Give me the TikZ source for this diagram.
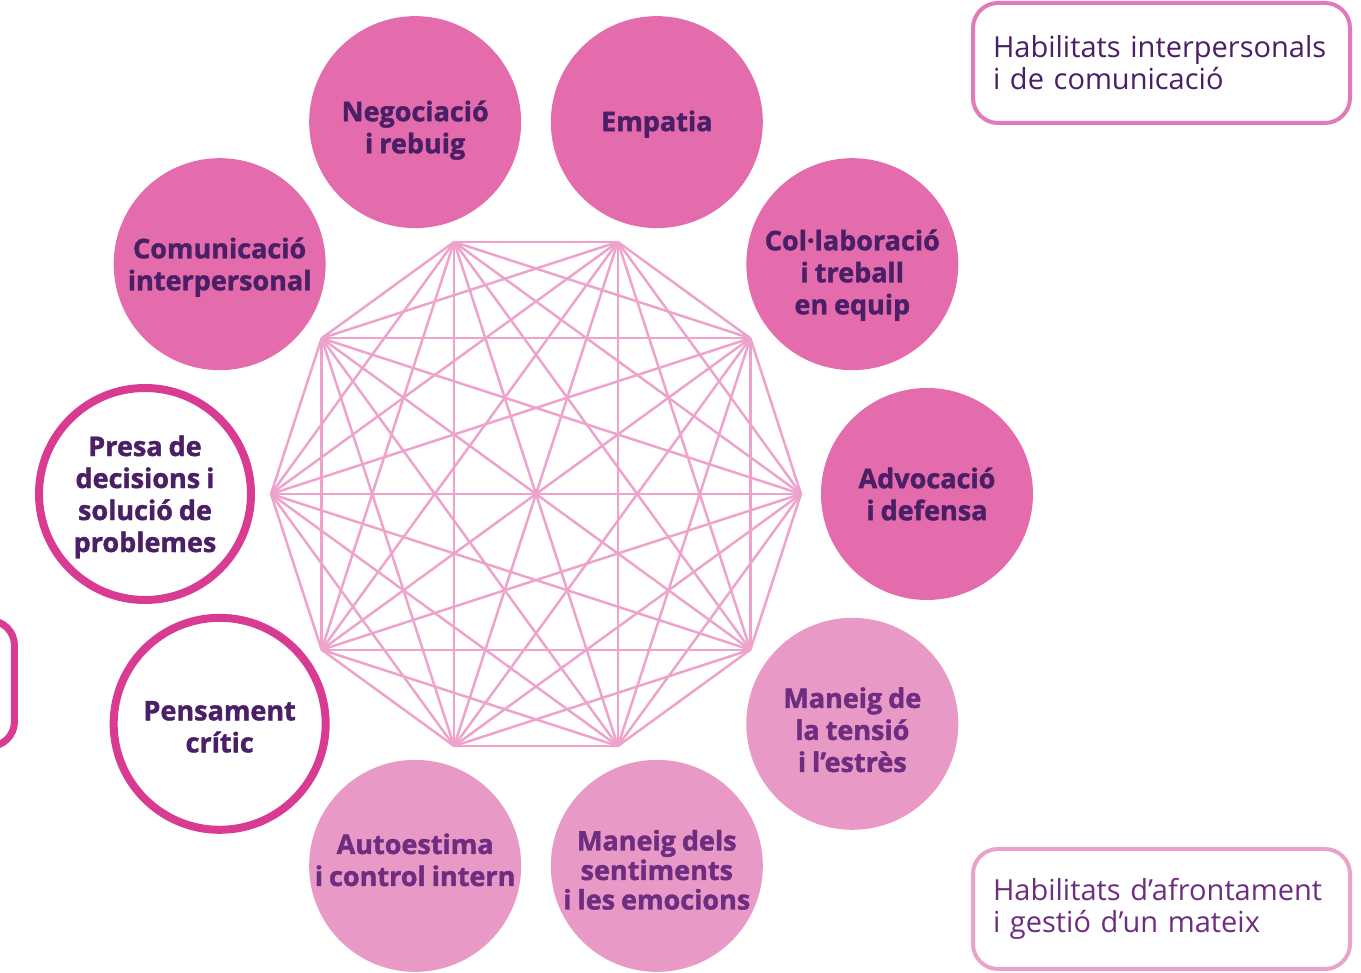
\documentclass[tikz,border=0pt]{standalone}
\usepackage{fontspec}
\setmainfont{Open Sans}[BoldFeatures={FakeBold=1.5, WordSpace=0.85}]

\definecolor{interpink}{HTML}{E46BAC}
\definecolor{selfpink}{HTML}{E899C5}
\definecolor{cognpink}{HTML}{D93A92}
\definecolor{edgepink}{HTML}{EEA3CD}
\definecolor{darkplum}{HTML}{4A1F66}
\definecolor{plum}{HTML}{6E2D80}
\definecolor{interframe}{HTML}{E07AB8}
\definecolor{selfframe}{HTML}{E9A3CA}

\tikzset{
	skill/.style={circle, minimum size=212pt, inner sep=0pt},
	inter/.style={skill, fill=interpink},
	self/.style={skill, fill=selfpink},
	cogn/.style={skill, draw=cognpink, line width=8pt, fill=white},
	skilltext/.style={align=center, inner sep=0pt, text=darkplum,
		font=\fontsize{27}{32}\selectfont\bfseries},
	edge/.style={edgepink, line width=2.5pt},
	legend/.style={rounded corners=25pt, line width=4pt, fill=white,
		minimum width=377pt, minimum height=120pt, text width=337pt,
		inner xsep=20pt, align=left, font=\fontsize{29}{32}\selectfont}
}

\begin{document}
\begin{tikzpicture}[x=1pt, y=1pt]
		\useasboundingbox (-536, -479) rectangle (825, 494);

		% decagon corners and all their chords
		\foreach \i in {0,...,9}
			\coordinate (v\i) at (\i*36:265);
		\foreach \i in {0,...,8} {
			\pgfmathtruncatemacro\k{\i+1}
			\foreach \j in {\k,...,9}
				\draw[edge] (v\i) -- (v\j);
		}

		% skills, text as centred labels (nudged to sit as in the layout)
		\node[inter, label={[skilltext, yshift=0]center:{Advocació\\i defensa}}] (advoc) at (0:391) {};
		\node[inter, label={[skilltext, yshift=-11]center:{Col·laboració\\i treball\\en equip}}] (collab) at (36:391) {};
		\node[inter, label={[skilltext, yshift=-2]center:{Empatia}}] (empat) at (72:391) {};
		\node[inter, label={[skilltext, yshift=-8]center:{Negociació\\i rebuig}}] (negoc) at (108:391) {};
		\node[inter, label={[skilltext, yshift=-3]center:{Comunicació\\interpersonal}}] (comun) at (144:391) {};
		\node[cogn, label={[skilltext, yshift=-3]center:{Presa de\\decisions i\\solució de\\problemes}}] (presa) at (180:391) {};
		\node[cogn, label={[skilltext, yshift=-3]center:{Pensament\\crític}}] (pensa) at (216:391) {};
		\node[self, label={[skilltext, text=plum, yshift=6]center:{Autoestima\\i control intern}}] (autoe) at (252:391) {};
		\node[self, label={[skilltext, text=plum, yshift=-4, font=\fontsize{27}{29.5}\selectfont\bfseries]center:{Maneig dels\\sentiments\\i les emocions}}] (senti) at (288:391) {};
		\node[self, label={[skilltext, text=plum, yshift=-6]center:{Maneig de\\la tensió\\i l’estrès}}] (tensi) at (324:391) {};

		% legend
		\node[legend, draw=interframe, text=darkplum] (lginter) at (625.5, 431)
			{Habilitats interpersonals\\i de comunicació};
		\node[legend, draw=selfframe, text=plum] (lgself) at (625.5, -415)
			{Habilitats d’afrontament\\i gestió d’un mateix};
		\draw[cognpink, line width=7pt, rounded corners=25pt]
			(-736, -126.5) rectangle (-521.5, -252.5);

	\end{tikzpicture}
\end{document}
